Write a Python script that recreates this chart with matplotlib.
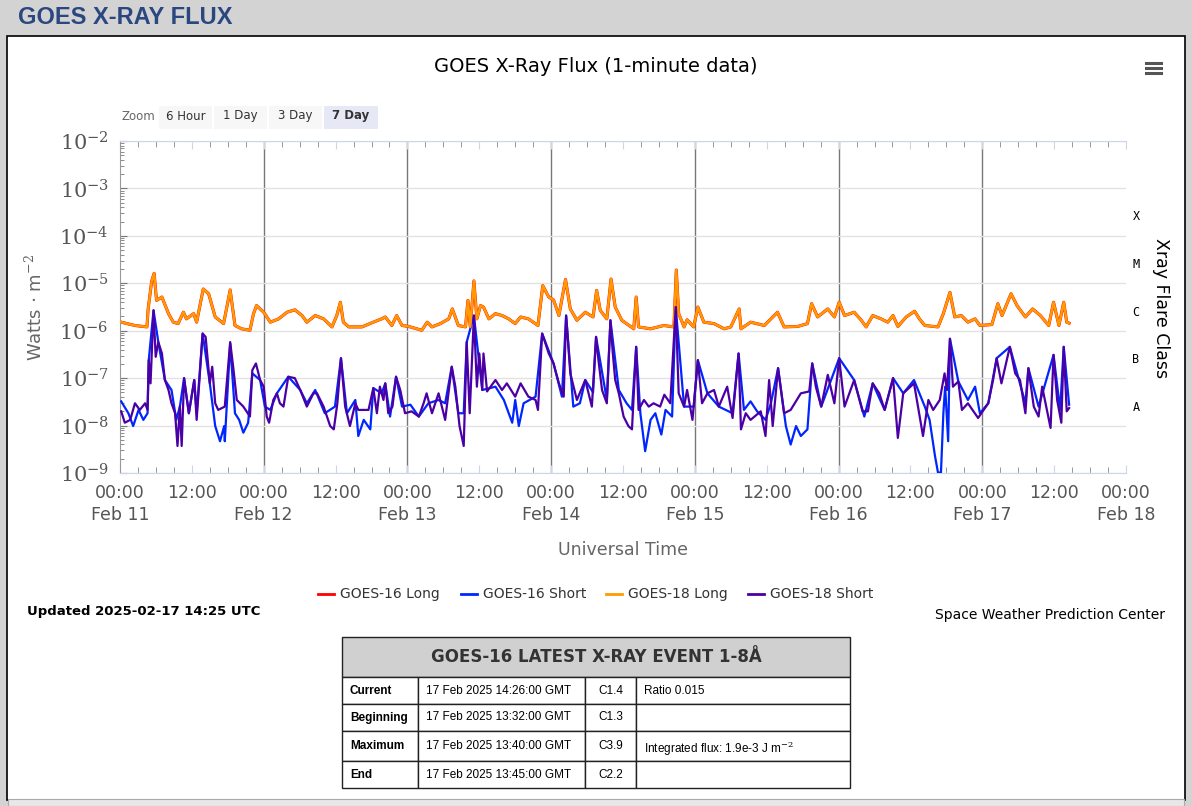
import matplotlib.pyplot as plt
import numpy as np
from matplotlib.patches import Rectangle
from matplotlib.ticker import FixedLocator, NullFormatter

plt.rcParams["mathtext.fontset"] = "dejavuserif"

W, H = 1192, 806

# hours since 2025-02-11 00:00 UTC, log10(flux W m^-2)
G18_LONG_T = [0.2, 2.5, 4.5, 4.7, 5.3, 5.7, 6.1, 7.0, 8.1, 8.9, 9.7, 10.6, 11.1, 12.3, 12.8, 13.9, 14.8,
              15.9, 17.3, 18.4, 19.2, 20.3, 21.7, 22.3, 22.8, 24.0, 25.1, 26.5, 27.9, 29.2, 30.4, 31.2,
              32.6, 34.0, 35.4, 36.2, 36.8, 37.3, 38.2, 40.4, 42.3, 43.7, 44.3, 45.4, 46.2, 47.1, 48.2,
              50.4, 51.3, 52.1, 53.5, 54.9, 55.5, 56.5, 57.7, 58.1, 58.5, 59.1, 59.6, 60.2, 60.7, 61.6,
              62.7, 63.8, 64.9, 66.0, 66.9, 68.2, 69.8, 70.6, 71.6, 72.4, 73.3, 74.4, 75.2, 76.3, 77.7,
              79.0, 79.6, 80.2, 81.3, 82.0, 82.7, 83.8, 85.8, 86.2, 86.6, 88.6, 90.8, 92.5, 92.9, 93.3,
              94.2, 94.7, 95.8, 96.5, 97.5, 99.2, 100.9, 102.0, 103.4, 103.7, 105.3, 107.6, 109.8, 110.9,
              113.2, 114.8, 115.5, 116.5, 118.2, 119.3, 120.1, 121.0, 122.6, 123.8, 124.6, 125.7, 127.1,
              128.2, 129.1, 129.9, 131.3, 132.7, 133.5, 134.4, 136.6, 137.5, 138.6, 139.4, 140.5, 141.6,
              142.8, 143.6, 145.6, 146.6, 147.3, 148.8, 149.8, 151.2, 152.4, 153.7, 155.1, 155.9, 156.8,
              157.6, 158.1, 158.5]
G18_LONG_V = [-5.82, -5.89, -5.92, -5.54, -4.95, -4.79, -5.36, -5.29, -5.64, -5.82, -5.85, -5.61, -5.75,
              -5.64, -5.82, -5.12, -5.22, -5.71, -5.85, -5.14, -5.89, -5.96, -5.99, -5.64, -5.47, -5.61,
              -5.82, -5.75, -5.61, -5.56, -5.68, -5.82, -5.68, -5.75, -5.92, -5.68, -5.40, -5.82, -5.92,
              -5.92, -5.82, -5.75, -5.71, -5.89, -5.68, -5.89, -5.91, -5.99, -5.82, -5.92, -5.85, -5.75,
              -5.54, -5.89, -5.92, -5.36, -5.92, -4.95, -5.75, -5.47, -5.50, -5.75, -5.64, -5.68, -5.75,
              -5.85, -5.71, -5.75, -5.89, -5.05, -5.29, -5.35, -5.68, -4.92, -5.54, -5.78, -5.61, -5.71,
              -5.15, -5.57, -5.75, -4.91, -5.50, -5.78, -5.96, -5.29, -5.92, -5.96, -5.89, -5.92, -4.72,
              -5.64, -5.92, -5.77, -5.92, -5.50, -5.82, -5.85, -5.96, -5.92, -5.54, -5.96, -5.82, -5.89,
              -5.61, -5.92, -5.91, -5.85, -5.43, -5.71, -5.54, -5.71, -5.40, -5.68, -5.61, -5.78, -5.92,
              -5.68, -5.75, -5.82, -5.68, -5.91, -5.71, -5.59, -5.75, -5.89, -5.92, -5.64, -5.19, -5.71,
              -5.68, -5.82, -5.75, -5.89, -5.87, -5.43, -5.68, -5.22, -5.47, -5.71, -5.54, -5.68, -5.89,
              -5.40, -5.89, -5.40, -5.82, -5.84]

G18_SHORT_T = [0.2, 0.8, 1.7, 2.5, 3.3, 4.2, 4.6, 4.8, 5.1, 5.6, 5.96, 6.4, 7.0, 7.5, 8.1, 8.6, 9.2, 9.6,
               10.0, 10.3, 10.7, 11.1, 11.5, 12.4, 12.8, 13.8, 14.3, 15.0, 15.4, 15.9, 16.4, 17.5, 18.4,
               18.9, 19.5, 20.6, 21.7, 22.1, 22.7, 23.4, 24.0, 24.5, 24.9, 25.6, 26.2, 26.7, 27.3, 28.1,
               29.2, 30.1, 31.2, 32.3, 32.9, 34.0, 35.1, 35.7, 36.3, 36.9, 37.6, 38.4, 39.3, 39.8, 41.5,
               42.3, 42.9, 43.4, 44.0, 44.3, 44.8, 45.5, 46.1, 46.8, 47.6, 48.7, 49.9, 50.7, 51.2, 52.1,
               53.2, 54.3, 55.4, 56.0, 56.7, 57.4, 57.9, 58.4, 59.1, 59.6, 60.0, 60.5, 60.7, 61.3, 62.7,
               63.8, 64.6, 66.0, 66.9, 68.2, 69.4, 69.8, 70.5, 71.6, 72.4, 73.3, 74.1, 74.5, 75.2, 76.3,
               77.7, 78.8, 79.5, 79.9, 80.5, 81.3, 81.9, 82.3, 82.7, 83.3, 84.1, 84.9, 85.5, 86.2, 86.6,
               87.5, 88.3, 89.1, 90.2, 90.9, 91.9, 92.8, 93.3, 94.2, 94.7, 95.6, 96.5, 97.2, 98.1, 99.2,
               100.0, 101.4, 102.3, 103.3, 103.7, 104.5, 105.3, 107.0, 107.8, 108.4, 109.0, 109.9, 110.9,
               112.0, 113.7, 115.1, 115.6, 116.2, 117.1, 118.2, 119.3, 120.1, 121.0, 121.8, 122.6, 124.0,
               124.9, 125.7, 126.8, 127.7, 129.1, 129.9, 130.8, 132.6, 134.1, 135.0, 135.8, 136.9, 137.7,
               138.1, 138.6, 139.1, 140.0, 140.6, 141.6, 143.3, 145.0, 145.8, 146.4, 147.2, 148.6, 149.5,
               150.3, 151.2, 151.7, 152.6, 153.4, 154.0, 155.4, 155.9, 156.5, 157.2, 157.6, 158.1, 158.5]
G18_SHORT_V = [-7.70, -7.94, -7.88, -7.53, -7.67, -7.53, -7.67, -6.62, -7.11, -5.57, -6.55, -6.24, -6.48,
               -7.04, -7.25, -7.53, -7.74, -8.43, -7.60, -8.43, -7.00, -7.39, -7.74, -7.04, -7.88, -6.06,
               -6.13, -7.11, -6.76, -7.53, -7.67, -7.60, -6.24, -6.76, -7.46, -7.60, -7.81, -6.83, -6.69,
               -7.04, -7.18, -7.81, -7.94, -7.46, -7.32, -7.53, -7.60, -6.97, -7.00, -7.25, -7.60, -7.32,
               -7.32, -7.60, -8.01, -8.08, -7.53, -6.58, -7.60, -8.01, -7.53, -7.67, -7.67, -7.21, -7.74,
               -7.18, -7.46, -7.11, -7.74, -7.60, -6.97, -7.25, -7.74, -7.70, -7.81, -7.53, -7.32, -7.74,
               -7.32, -7.88, -6.76, -7.18, -8.01, -8.43, -6.24, -7.74, -5.68, -7.18, -6.48, -7.25, -6.48,
               -7.28, -7.04, -7.25, -7.11, -7.39, -7.11, -7.39, -7.46, -7.67, -6.06, -6.48, -6.69, -7.11,
               -7.39, -5.68, -6.90, -7.46, -7.04, -7.60, -6.13, -6.62, -7.25, -7.53, -5.78, -6.48, -7.04,
               -7.32, -7.81, -8.01, -8.08, -6.34, -7.67, -7.46, -7.60, -7.53, -7.60, -7.35, -7.53, -5.50,
               -7.32, -7.60, -7.25, -7.88, -6.62, -7.53, -7.32, -7.25, -7.60, -7.18, -7.84, -6.48, -8.08,
               -7.74, -7.88, -7.70, -8.22, -7.04, -8.01, -6.79, -7.74, -7.67, -7.32, -7.28, -6.69, -7.18,
               -7.60, -6.93, -7.53, -6.58, -7.60, -7.32, -7.04, -7.70, -7.70, -7.11, -7.32, -7.67, -7.00,
               -8.26, -7.32, -7.11, -8.22, -7.46, -7.67, -7.46, -6.90, -7.25, -6.17, -7.18, -7.07, -7.67,
               -7.53, -7.84, -7.53, -7.04, -6.58, -7.11, -6.34, -6.90, -7.04, -7.74, -6.79, -7.60, -7.81,
               -7.18, -8.05, -6.51, -7.46, -7.94, -6.34, -7.70, -7.63]

G16_SHORT_T = [0.2, 1.4, 2.2, 3.1, 3.9, 4.6, 4.8, 5.6, 6.4, 7.5, 8.6, 9.4, 10.0, 10.7, 11.5, 12.4, 12.8,
               13.8, 15.0, 15.9, 16.7, 17.4, 17.5, 18.4, 19.2, 19.9, 20.6, 21.4, 22.1, 23.4, 24.2, 25.1,
               26.2, 28.1, 30.1, 31.2, 32.6, 34.2, 35.9, 36.9, 37.9, 39.3, 39.8, 40.7, 41.8, 42.3, 43.7,
               44.3, 45.1, 46.1, 47.1, 48.5, 49.9, 51.5, 53.2, 54.3, 55.4, 56.5, 57.4, 57.9, 59.1, 60.5,
               62.7, 64.1, 65.5, 66.0, 66.6, 67.4, 69.4, 70.5, 72.4, 73.8, 74.5, 75.7, 76.8, 77.7, 79.0,
               79.5, 81.3, 81.9, 83.3, 84.6, 85.5, 86.2, 86.9, 87.7, 88.6, 89.4, 90.4, 91.1, 92.2, 92.8,
               94.2, 95.8, 96.5, 98.1, 100.0, 102.3, 103.3, 104.2, 105.3, 106.4, 107.8, 108.7, 109.9,
               111.2, 112.0, 112.9, 113.7, 114.8, 115.6, 117.1, 120.1, 122.6, 124.3, 125.7, 127.7, 129.1,
               130.8, 132.6, 134.4, 135.2, 136.1, 136.6, 137.1, 137.5, 137.8, 138.3, 138.6, 140.0, 141.6,
               142.8, 143.6, 145.0, 146.4, 148.6, 151.2, 151.7, 153.4, 155.9, 157.0, 157.6, 158.5]
G16_SHORT_V = [-7.49, -7.74, -8.01, -7.67, -7.88, -7.74, -6.62, -5.57, -6.24, -7.04, -7.25, -7.88, -7.60,
               -7.00, -7.74, -7.04, -7.74, -6.06, -7.11, -8.01, -8.33, -8.01, -8.33, -6.27, -7.74, -7.88,
               -8.15, -7.94, -6.90, -7.04, -7.60, -7.67, -7.32, -6.97, -7.25, -7.53, -7.25, -7.74, -7.60,
               -6.58, -7.74, -7.46, -8.22, -7.88, -8.08, -7.21, -7.32, -7.11, -7.81, -6.97, -7.60, -7.56,
               -7.81, -7.53, -7.46, -7.53, -6.76, -7.74, -7.74, -6.24, -5.68, -7.25, -7.18, -7.46, -7.94,
               -7.46, -8.01, -7.53, -7.39, -6.06, -6.69, -7.39, -5.68, -7.60, -7.53, -7.04, -7.30, -6.13,
               -7.46, -5.78, -7.25, -7.53, -7.67, -6.34, -7.74, -8.54, -7.88, -7.74, -8.19, -7.67, -7.81,
               -5.50, -7.60, -7.60, -6.62, -7.32, -7.60, -7.74, -6.48, -7.67, -7.49, -7.70, -7.88, -7.53,
               -6.79, -8.01, -8.40, -8.01, -8.22, -8.08, -6.69, -7.60, -6.58, -7.04, -7.81, -7.11, -7.67,
               -7.00, -7.32, -7.04, -7.60, -7.88, -8.64, -8.99, -8.99, -7.74, -7.18, -8.33, -6.17, -7.07,
               -7.46, -7.18, -7.74, -7.53, -6.58, -6.34, -7.53, -6.79, -7.60, -6.51, -7.67, -6.34, -7.56]

DAY_LABELS = ["Feb 11", "Feb 12", "Feb 13", "Feb 14", "Feb 15", "Feb 16", "Feb 17", "Feb 18"]
CLASSES = ["A", "B", "C", "M", "X"]
SERIES = ["GOES-16 Long", "GOES-16 Short", "GOES-18 Long", "GOES-18 Short"]
COLORS = ["#ff0000", "#0026ff", "#ff9b00", "#4b00a5"]

TABLE_ROWS = [
    ["Current", "17 Feb 2025 14:26:00 GMT", "C1.4", "Ratio 0.015"],
    ["Beginning", "17 Feb 2025 13:32:00 GMT", "C1.3", ""],
    ["Maximum", "17 Feb 2025 13:40:00 GMT", "C3.9", r"Integrated flux: 1.9e-3 J m$^{-2}$"],
    ["End", "17 Feb 2025 13:45:00 GMT", "C2.2", ""],
]

ARIAL = "Liberation Sans"


def fx(x):
    return x / W


def fy(y):
    return 1 - y / H


def box(fig, x0, y0, x1, y1, zorder=1, **kw):
    fig.patches.append(Rectangle((fx(x0), fy(y1)), fx(x1) - fx(x0), fy(y0) - fy(y1),
                                 transform=fig.transFigure, zorder=zorder, **kw))


fig = plt.figure(figsize=(W / 100, H / 100), dpi=100, facecolor="#d3d3d3")
box(fig, 7, 36, 1185, 800, zorder=-5, facecolor="white", edgecolor="black", linewidth=1.2)
box(fig, 8, 799, 1184, 806, facecolor="#e8e8e8", edgecolor="#aaaaaa", linewidth=0.8)
fig.text(fx(18), fy(18), "GOES X-RAY FLUX", fontsize=17, fontweight="bold", color="#2a4780",
         va="center", ha="left", family=ARIAL)
fig.text(fx(596), fy(67), "GOES X-Ray Flux (1-minute data)", fontsize=14, ha="center", va="center")
for yy in (63, 68, 73):
    fig.lines.append(plt.Line2D([fx(1146), fx(1161)], [fy(yy), fy(yy)], transform=fig.transFigure,
                                color="#555555", linewidth=2.2))

fig.text(fx(121), fy(117), "Zoom", fontsize=8.5, color="#666666", va="center")
for lbl, x0, x1, active in [("6 Hour", 159, 212, False), ("1 Day", 214, 267, False),
                            ("3 Day", 269, 322, False), ("7 Day", 324, 378, True)]:
    box(fig, x0, 106, x1, 129, facecolor="#e6e9f5" if active else "#f7f7f7", edgecolor="none")
    fig.text(fx((x0 + x1) / 2), fy(116), lbl, fontsize=8.5, ha="center", va="center",
             fontweight="bold" if active else "normal", color="#333333")

ax = fig.add_axes([fx(120), fy(473), fx(1126) - fx(120), fy(141) - fy(473)])
ax.set_zorder(2)
ax.plot(G18_LONG_T, np.power(10.0, G18_LONG_V), color=COLORS[0], lw=2.2, zorder=2)
ax.plot(G16_SHORT_T, np.power(10.0, G16_SHORT_V), color=COLORS[1], lw=1.6, zorder=3)
ax.plot(G18_LONG_T, np.power(10.0, G18_LONG_V), color=COLORS[2], lw=1.8, zorder=4)
ax.plot(G18_SHORT_T, np.power(10.0, G18_SHORT_V), color=COLORS[3], lw=1.6, zorder=5)

ax.set_yscale("log")
ax.set_ylim(1e-9, 1e-2)
ax.set_xlim(0, 168)
ax.set_yticks([10.0 ** k for k in range(-9, -1)])
ax.set_yticklabels([rf"$10^{{{k}}}$" for k in range(-9, -1)], fontsize=15, color="#555555")
ax.yaxis.set_minor_locator(FixedLocator([m * 10.0 ** k for k in range(-9, -2) for m in range(2, 10)]))
ax.yaxis.set_minor_formatter(NullFormatter())
ax.tick_params(axis="y", which="both", direction="in", length=5, color="#777777", pad=8)
ax.tick_params(axis="y", which="minor", length=3)
ax.grid(axis="y", which="major", color="#e2e2e2", linewidth=1)

xt = list(range(0, 169, 12))
ax.set_xticks(xt)
ax.set_xticklabels([f"00:00\n{DAY_LABELS[h // 24]}" if h % 24 == 0 else "12:00" for h in xt],
                   fontsize=12.5, color="#555555", va="top", linespacing=1.3)
ax.xaxis.set_minor_locator(FixedLocator([h for h in range(0, 169, 3) if h % 12]))
ax.tick_params(axis="x", which="both", direction="in", length=6, color="#ccd6eb", top=True, pad=8)
ax.tick_params(axis="x", which="minor", length=4, color="#888888")
for d in range(24, 168, 24):
    ax.axvline(d, color="#777777", linewidth=1, zorder=1)
for s in ax.spines.values():
    s.set_color("#ccd6eb")
ax.spines["left"].set_color("#999999")
ax.spines["right"].set_visible(False)

ax.set_xlabel("Universal Time", fontsize=12.5, color="#666666", labelpad=12)
ax.set_ylabel(r"Watts $\cdot$ m$^{-2}$", fontsize=13, color="#666666", labelpad=10)

for i, c in enumerate(CLASSES):
    fig.text(fx(1136), fy(407 - 47.5 * i), c, fontsize=8.5, ha="center", va="center",
             family="DejaVu Sans Mono")
fig.text(fx(1161), fy(308), "Xray Flare Class", fontsize=12.5, rotation=-90, ha="center", va="center")

# legend
leg_x = [318, 461, 606, 748]
for x0, lbl, col in zip(leg_x, SERIES, COLORS):
    fig.lines.append(plt.Line2D([fx(x0), fx(x0 + 16)], [fy(594)] * 2, transform=fig.transFigure,
                                color=col, linewidth=2))
    fig.text(fx(x0 + 22), fy(594), lbl, fontsize=10, va="center", color="#333333")

fig.text(fx(27), fy(612), "Updated 2025-02-17 14:25 UTC", fontsize=9.5, fontweight="bold", va="center")
fig.text(fx(1165), fy(615), "Space Weather Prediction Center", fontsize=10, ha="right", va="center")

# event table
cols = [342, 418, 585, 636, 850]
rows = [677, 704, 731, 761, 788]
box(fig, 342, 637, 850, 677, facecolor="#d0d0d0", edgecolor="#222222", linewidth=1)
fig.text(fx(596), fy(657), "GOES-16 LATEST X-RAY EVENT 1-8Å", fontsize=12, fontweight="bold",
         ha="center", va="center", color="#333333", family="Liberation Sans Narrow")
for r, row in enumerate(TABLE_ROWS):
    for c, val in enumerate(row):
        box(fig, cols[c], rows[r], cols[c + 1], rows[r + 1], facecolor="white", edgecolor="#222222",
            linewidth=1)
        cy = (rows[r] + rows[r + 1]) / 2 + (3 if c == 3 and r == 2 else 0)
        if c == 2:
            fig.text(fx((cols[2] + cols[3]) / 2), fy(cy), val, fontsize=8.5, ha="center", va="center",
                     family=ARIAL)
        else:
            fig.text(fx(cols[c] + 8), fy(cy), val, fontsize=8.5, family=ARIAL,
                     fontweight="bold" if c == 0 else "normal", va="center")

fig.savefig("out.png", dpi=100, facecolor=fig.get_facecolor())
